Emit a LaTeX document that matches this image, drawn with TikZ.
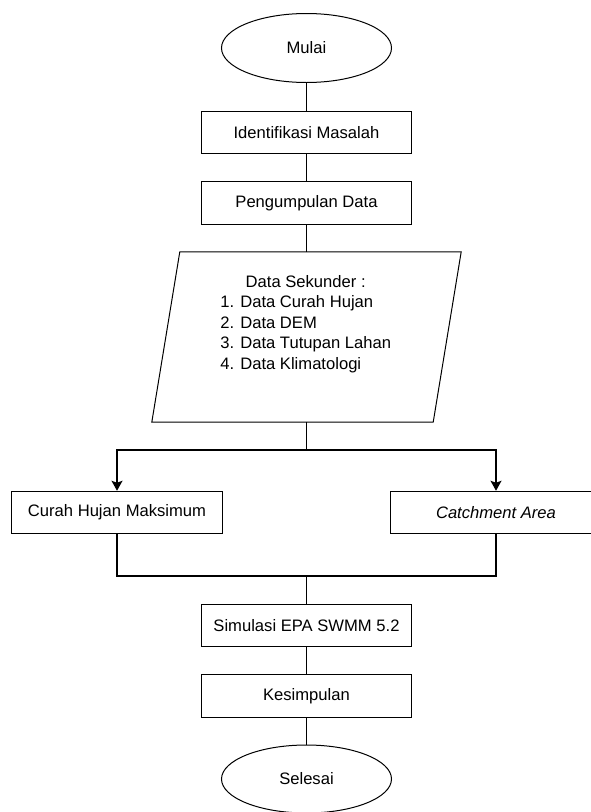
\documentclass[tikz,border=0pt]{standalone}
\usepackage{fontspec}
\setmainfont{Liberation Sans}
\usetikzlibrary{shapes.geometric,arrows.meta}
\begin{document}
\begin{tikzpicture}[x=1pt,y=-1pt,
  every node/.style={font=\fontsize{16.6}{20.5}\selectfont},
  procbox/.style={draw, line width=1pt, rectangle, inner sep=0pt, minimum width=210.5pt, minimum height=42.5pt},
  termbox/.style={draw, line width=1pt, ellipse, inner sep=0pt, minimum width=170pt, minimum height=69pt},
  mainline/.style={line width=1.8pt},
  branchline/.style={line width=1.2pt},
  arr/.style={-{Stealth[length=10pt,width=11pt,inset=2pt]}}]
\useasboundingbox (0,0) rectangle (590,812);
\node[termbox] (mulai) at (306.5,48) {Mulai};
\node[procbox] (ident) at (306.5,132.5) {Identifikasi Masalah};
\node[procbox] (kumpul) at (306.5,203) {Pengumpulan Data};
\node[rectangle, inner sep=0pt, minimum width=281pt, minimum height=170pt] (data) at (306.5,337) {};
\draw[line width=1pt] ([xshift=14pt]data.north west) -- ([xshift=14pt]data.north east)
  -- ([xshift=-14pt]data.south east) -- ([xshift=-14pt]data.south west) -- cycle;
\node[inner sep=0pt] (datatext) at (305.7,324) {\begin{tabular}{@{}l@{}}\multicolumn{1}{@{}c@{}}{Data Sekunder :}\\
1. Data Curah Hujan\\
2. Data DEM\\
3. Data Tutupan Lahan\\
4. Data Klimatologi\end{tabular}};
\node[procbox, minimum width=211.5pt] (curah) at (117,512.5) {Curah Hujan Maksimum};
\node[procbox, minimum width=211.5pt] (catch) at (496,512.5) {\itshape Catchment Area};
\node[procbox] (sim) at (306.5,625.5) {Simulasi EPA SWMM 5.2};
\node[procbox] (kesim) at (306.5,696) {Kesimpulan};
\node[termbox, minimum height=68pt] (selesai) at (306.5,779) {Selesai};
\coordinate (split) at (306.5,450);
\coordinate (merge) at (306.5,576);
\draw[mainline] (mulai.south) -- (ident.north);
\draw[mainline] (ident.south) -- (kumpul.north);
\draw[mainline] (kumpul.south) -- (data.north);
\draw[mainline] (data.south) -- (split);
\draw[branchline, arr] (split) -| (curah.north);
\draw[branchline, arr] (split) -| (catch.north);
\draw[branchline] (curah.south) |- (merge);
\draw[branchline] (catch.south) |- (merge);
\draw[line width=1.5pt] (merge) -- (sim.north);
\draw[mainline] (sim.south) -- (kesim.north);
\draw[mainline] (kesim.south) -- (selesai.north);
\end{tikzpicture}
\end{document}
